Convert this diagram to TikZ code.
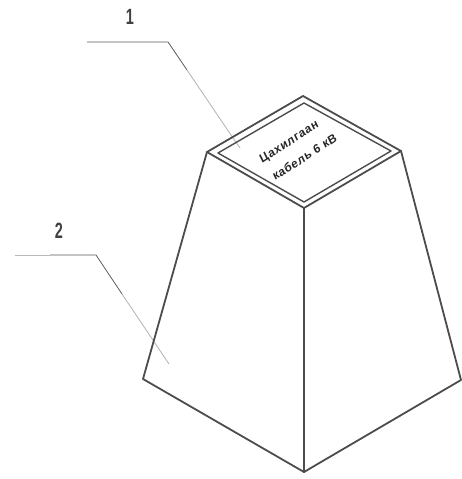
\documentclass[tikz,border=0pt]{standalone}
\usepackage{fontspec}
\setmainfont{Liberation Sans}
\newfontfamily\platefont[FakeSlant=0.12,LetterSpace=5]{Liberation Sans Bold}
\newfontfamily\calloutfont{Liberation Sans Bold}
\definecolor{inkline}{gray}{0.30}
\definecolor{leaderdark}{gray}{0.35}
\definecolor{leaderfade}{gray}{0.72}
\tikzset{
  edgeline/.style={draw=inkline,line width=1.8pt,line join=round,line cap=round},
  leaderline/.style={draw=leaderdark,line width=0.8pt},
  leaderpale/.style={draw=leaderfade,line width=0.9pt},
  callout/.style={font=\calloutfont\fontsize{17}{17}\selectfont,text=black!75,inner sep=0pt,yscale=1.3,xscale=0.85},
  platetext/.style={font=\platefont\fontsize{12}{12}\selectfont,text=black!85,inner sep=0pt,rotate=33}
}
\begin{document}
\begin{tikzpicture}[x=1pt,y=-1pt]
\useasboundingbox (0,0) rectangle (461,479);
% top plate outer
\coordinate (ol) at (207,152);
\coordinate (ot) at (303,96);
\coordinate (or) at (401,151);
\coordinate (ob) at (304,208);
% top plate inner
\coordinate (il) at (218,153);
\coordinate (it) at (304,103);
\coordinate (ir) at (391,151);
\coordinate (ib) at (304,202);
% base
\coordinate (bl) at (143,379);
\coordinate (bb) at (304,472);
\coordinate (br) at (461,380);
% leaders
\coordinate (a1) at (87,42);
\coordinate (a2) at (168,42);
\coordinate (a3) at (187,70);
\coordinate (a4) at (231,135);
\coordinate (a5) at (240,148);
\coordinate (c1) at (15,255);
\coordinate (c0) at (50,255);
\coordinate (c2) at (96,255);
\coordinate (c3) at (122,294);
\coordinate (c4) at (169,364);

\draw[leaderpale] (a3) -- (a4);
\draw[leaderpale] (a4) -- (a5);
\draw[leaderline] (a1) -- (a2) -- (a3);
\draw[leaderpale] (c1) -- (c0);
\draw[leaderline] (c0) -- (c2) -- (c3);
\draw[leaderpale] (c3) -- (c4);

\draw[edgeline] (ol) -- (ot) -- (or) -- (ob) -- cycle;
\draw[edgeline,line width=1.4pt] (il) -- (it) -- (ir) -- (ib) -- cycle;
\draw[edgeline] (ol) -- (bl) -- (bb) -- (br) -- (or);
\draw[edgeline] (ob) -- (bb);

\node[callout] (n1) at (130,17) {1};
\node[callout] (n2) at (59,231) {2};
\node[platetext] (t1) at (289,143) {Цахилгаан};
\node[platetext] (t2) at (304,157) {кабель 6 кВ};
\end{tikzpicture}
\end{document}
